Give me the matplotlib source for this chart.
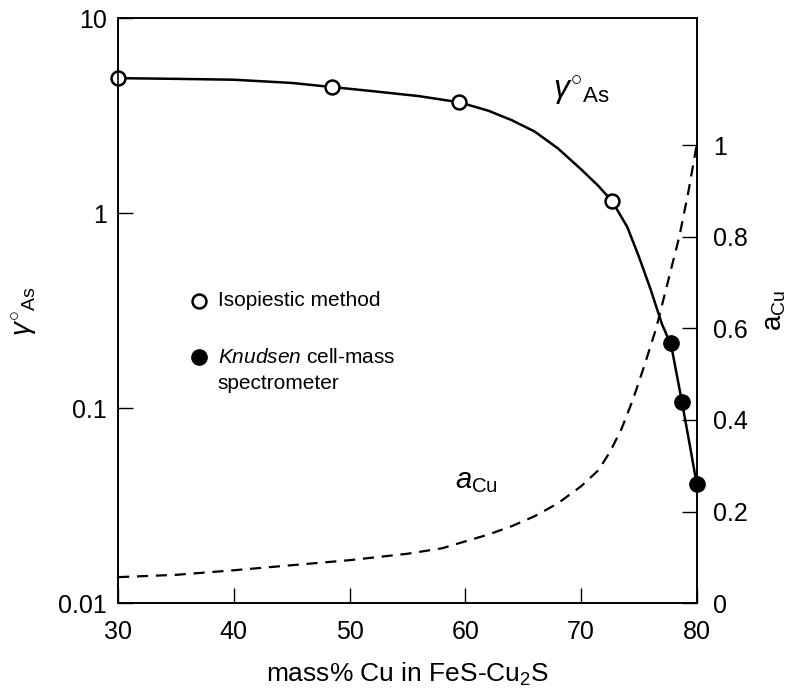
import numpy as np
import matplotlib
matplotlib.use("Agg")
import matplotlib.pyplot as plt

plt.rcParams['font.family'] = ['Liberation Sans', 'DejaVu Sans']
plt.rcParams['mathtext.fontset'] = 'custom'
plt.rcParams['mathtext.rm'] = 'Liberation Sans'
plt.rcParams['mathtext.it'] = 'Liberation Sans:italic'

# gamma (left, log axis) smooth curve
gamma_x = [30, 35, 40, 45, 48.5, 52, 56, 59.5, 62, 64, 66, 68, 70, 71.5, 72.7,
           74, 75, 76, 77, 77.8, 78.7, 79.4, 80]
gamma_y = [4.92, 4.88, 4.83, 4.65, 4.43, 4.22, 3.98, 3.70, 3.35, 3.0, 2.62, 2.15,
           1.68, 1.38, 1.15, 0.85, 0.60, 0.41, 0.27, 0.21, 0.11, 0.065, 0.041]

# measured points
iso_x = [30, 48.5, 59.5, 72.7]
iso_y = [4.92, 4.43, 3.70, 1.15]
knud_x = [77.8, 78.7, 80]
knud_y = [0.215, 0.108, 0.041]

# a_Cu (right, linear axis)
acu_x = [30, 35, 40, 45, 50, 55, 58, 60, 62, 64, 66, 68, 70, 71.5, 72.5, 73.5,
         74.5, 75.5, 76.5, 77.5, 78.5, 79.3, 80]
acu_y = [0.057, 0.062, 0.072, 0.083, 0.094, 0.108, 0.12, 0.135, 0.15, 0.168, 0.19,
         0.218, 0.255, 0.29, 0.33, 0.38, 0.445, 0.52, 0.6, 0.7, 0.8, 0.9, 1.0]

fig = plt.figure(figsize=(7.98, 6.95), dpi=100)
ax = fig.add_axes([0.148, 0.132, 0.725, 0.842])
ax.set_yscale('log')
ax.set_xlim(30, 80)
ax.set_ylim(0.01, 10)

ax.plot(gamma_x, gamma_y, color='black', lw=1.8, zorder=3)
ax.plot(iso_x, iso_y, 'o', ms=10, mfc='white', mec='black', mew=1.8,
        clip_on=False, zorder=5)
ax.plot(knud_x, knud_y, 'o', ms=11, mfc='black', mec='black',
        clip_on=False, zorder=5)

ax.set_xticks([30, 40, 50, 60, 70, 80])
ax.set_yticks([0.01, 0.1, 1, 10])
ax.set_yticklabels(['0.01', '0.1', '1', '10'])
ax.minorticks_off()
ax.tick_params(direction='in', length=11, width=1, labelsize=18, pad=8)
ax.tick_params(axis='x', pad=12)
ax.set_xlabel(r'mass% Cu in FeS-Cu$_2$S', fontsize=19, labelpad=12)
ax.set_ylabel(r'$\gamma^{\circ}{}_{\mathrm{As}}$', fontsize=20, labelpad=14)

ax2 = ax.twinx()
ax2.set_ylim(0, 1.277)
ax2.plot(acu_x, acu_y, color='black', lw=1.6, dashes=(5, 3.5), zorder=2)
ax2.set_yticks([0, 0.2, 0.4, 0.6, 0.8, 1])
ax2.set_yticklabels(['0', '0.2', '0.4', '0.6', '0.8', '1'])
ax2.tick_params(direction='in', length=11, width=1, labelsize=18, pad=12)
ax2.set_ylabel(r'a$_{\mathrm{Cu}}$', fontsize=20, labelpad=10)

for a in (ax, ax2):
    for s in a.spines.values():
        s.set_linewidth(1.2)

# annotations
ax.text(67.6, 3.9, r'$\gamma^{\circ}{}_{\mathrm{As}}$', fontsize=23)
ax2.text(59.1, 0.25, r'$a_{\mathrm{Cu}}$', fontsize=21)

# legend drawn by hand
ax.plot([37.0], [0.355], 'o', ms=10, mfc='white', mec='black', mew=1.8)
ax.text(38.6, 0.355, 'Isopiestic method', fontsize=15, va='center')
ax.plot([37.0], [0.183], 'o', ms=11, mfc='black', mec='black')
ax.text(38.6, 0.183, r'$\mathit{Knudsen}$ cell-mass', fontsize=15, va='center')
ax.text(38.6, 0.134, 'spectrometer', fontsize=15, va='center')

fig.savefig('out.png', dpi=100)
